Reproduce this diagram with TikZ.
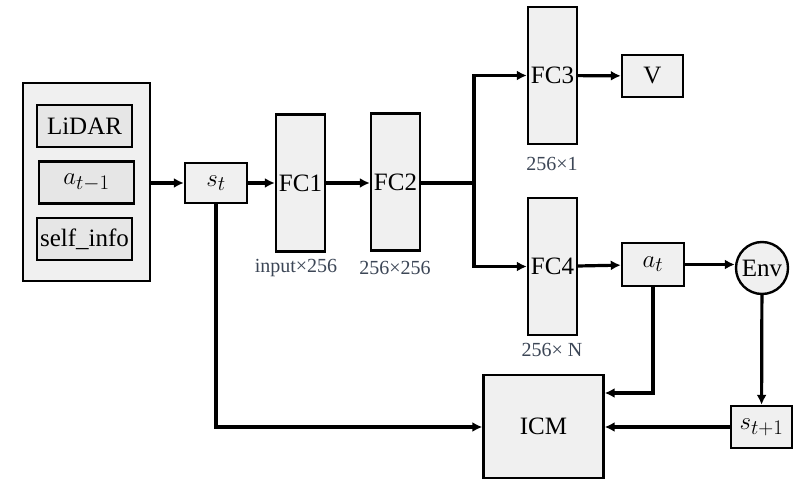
\documentclass[tikz,border=0pt]{standalone}
\usepackage{fontspec}
\setmainfont{Liberation Serif}
\usetikzlibrary{arrows.meta}

\definecolor{boxgray}{HTML}{F0F0F0}
\definecolor{ingray}{HTML}{E6E6E6}
\definecolor{dimtext}{HTML}{3C4656}

\begin{document}
\begin{tikzpicture}[x=1pt, y=-1pt, >={Latex[length=10pt,width=10pt]},
    blk/.style={draw, line width=2.4pt, fill=boxgray, inner sep=0pt, font=\fontsize{25}{30}\selectfont},
    inblk/.style={blk, fill=ingray, minimum width=95, minimum height=42},
    fc/.style={blk, minimum width=49, minimum height=137},
    mth/.style={font=\fontsize{28}{32}\selectfont},
    dims/.style={text=dimtext, inner sep=0pt, font=\fontsize{20}{24}\selectfont},
    link/.style={line width=3.2pt, ->}]

\useasboundingbox (0,0) rectangle (808,486);

% input block
\node[blk, minimum width=127, minimum height=198] (obs) at (86.5,182) {};
\node[inblk] (lidar) at (84.5,126) {LiDAR};
\node[inblk, mth] (prev) at (86.5,182.5) {$a_{t-1}$};
\node[inblk] (self) at (84.5,239) {self\_info};

\node[blk, mth, minimum width=62, minimum height=40] (st) at (216,183) {$s_t$};

% network
\node[fc] (fc1) at (300.5,183) {FC1};
\node[fc] (fc2) at (395.5,182) {FC2};
\node[fc] (fc3) at (552.5,75.5) {FC3};
\node[fc] (fc4) at (552.5,266.5) {FC4};

\node[dims] (d1) at (296,268) {input×256};
\node[dims] (d2) at (395,268) {256×256};
\node[dims] (d3) at (552,164) {256×1};
\node[dims] (d4) at (552,350) {256× N};

\node[blk, minimum width=61, minimum height=42] (v) at (652.5,76) {V};
\node[blk, mth, minimum width=62, minimum height=43] (at) at (653,264.5) {$a_t$};
\node[blk, circle, minimum size=52] (env) at (762,268) {Env};
\node[blk, minimum width=120, minimum height=103] (icm) at (543.5,426.5) {ICM};
\node[blk, mth, minimum width=61, minimum height=42] (st1) at (761.5,427) {$s_{t+1}$};

\coordinate (split) at (474,183);

\draw[link] (obs.east |- st) -- (st);
\draw[link] (st) -- (fc1);
\draw[link] (fc1) -- (fc2.west |- fc1);
\draw[line width=3.2pt] (fc2.east |- split) -- (split);
\draw[link] (split) |- (fc3);
\draw[link] (split) |- (fc4);
\draw[link] (fc3) -- (v);
\draw[link] (fc4) -- (at);
\draw[link] (at) -- (env.west |- at);
\draw[link] (env) -- (st1);
\draw[link] (st1) -- (icm.east |- st1);
\draw[link] (at.south) |- ([yshift=33.5pt]icm.east);
\draw[link] (st.south) |- (icm.west |- st1);

\end{tikzpicture}
\end{document}
